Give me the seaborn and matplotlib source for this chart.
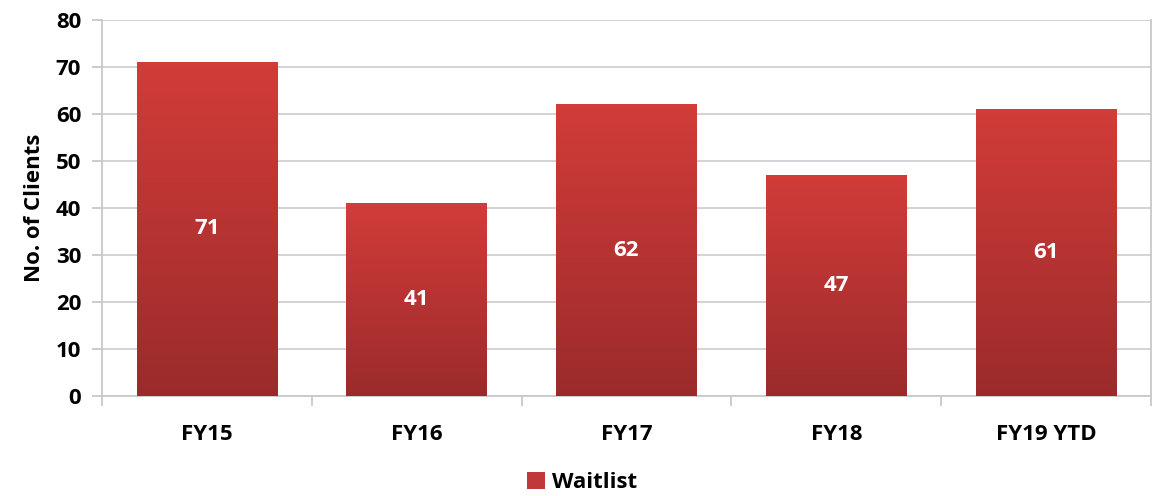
import numpy as np
import pandas as pd
import matplotlib
matplotlib.use("Agg")
import matplotlib.pyplot as plt
import seaborn as sns
from matplotlib.colors import LinearSegmentedColormap
from matplotlib.patches import Patch

categories = ["FY15", "FY16", "FY17", "FY18", "FY19 YTD"]
waitlist = [71, 41, 62, 47, 61]
y_ticks = [0, 10, 20, 30, 40, 50, 60, 70, 80]
series_name = "Waitlist"
y_label = "No. of Clients"

sns.set_theme(style="white")
plt.rcParams["font.family"] = ["Open Sans", "DejaVu Sans"]
plt.rcParams["font.weight"] = "bold"
plt.rcParams["text.color"] = "black"
plt.rcParams["axes.labelcolor"] = "black"
plt.rcParams["xtick.color"] = "black"
plt.rcParams["ytick.color"] = "black"

df = pd.DataFrame({"cat": categories, "val": waitlist})

fig = plt.figure(figsize=(11.64, 4.96), dpi=100)
ax = fig.add_axes([102/1164, 1-396/496, (1151-102)/1164, (396-19.5)/496])

sns.barplot(data=df, x="cat", y="val", color="#c0393a", width=0.67, ax=ax, zorder=3)

top_c = "#d23c39"
bot_c = "#9b2b2b"
cmap = LinearSegmentedColormap.from_list("g", [bot_c, top_c])
grad = np.linspace(0, 1, 256).reshape(-1, 1)
for p in ax.patches:
    x0, y0 = p.get_x(), p.get_y()
    w, h = p.get_width(), p.get_height()
    im = ax.imshow(grad, cmap=cmap, origin="lower", aspect="auto",
                   extent=[x0, x0 + w, y0, y0 + h], zorder=4)
    im.set_clip_path(p)
    p.set_edgecolor("none")

for i, v in enumerate(waitlist):
    ax.text(i, v / 2, str(v), ha="center", va="center", color="white",
            fontsize=16, fontweight="bold", zorder=6)

ax.set_xlim(-0.5, len(categories) - 0.5)
ax.set_ylim(0, 80)
ax.set_yticks(y_ticks)
ax.set_yticklabels([str(t) for t in y_ticks], fontsize=16, fontweight="bold")
ax.set_xticks(range(len(categories)))
ax.set_xticklabels(categories, fontsize=16, fontweight="bold")
ax.set_xlabel("")
ax.set_ylabel(y_label, fontsize=16, fontweight="bold", labelpad=8)

ax.grid(axis="y", color="#d0d0d0", linewidth=1.3, zorder=0)
ax.set_axisbelow(True)
for s in ["left", "right", "bottom"]:
    ax.spines[s].set_color("#c8c8c8")
    ax.spines[s].set_linewidth(1.3)
ax.spines["top"].set_visible(False)

ax.tick_params(axis="y", length=7, width=1.3, color="#c8c8c8", labelcolor="black",
               direction="out", left=True, pad=8)
ax.tick_params(axis="x", length=0, pad=20, labelcolor="black")
ax.set_xticks(np.arange(-0.5, len(categories), 1.0), minor=True)
ax.tick_params(axis="x", which="minor", length=7, width=1.3, color="#c8c8c8",
               direction="out", bottom=True)

handle = Patch(facecolor="#c0393a", edgecolor="none")
fig.legend([handle], [series_name], loc="lower center", bbox_to_anchor=(0.5, -0.035),
           frameon=False, prop={"size": 16, "weight": "bold"}, handlelength=0.8,
           handleheight=0.8, handletextpad=0.3)

fig.savefig("out.png", dpi=100)
